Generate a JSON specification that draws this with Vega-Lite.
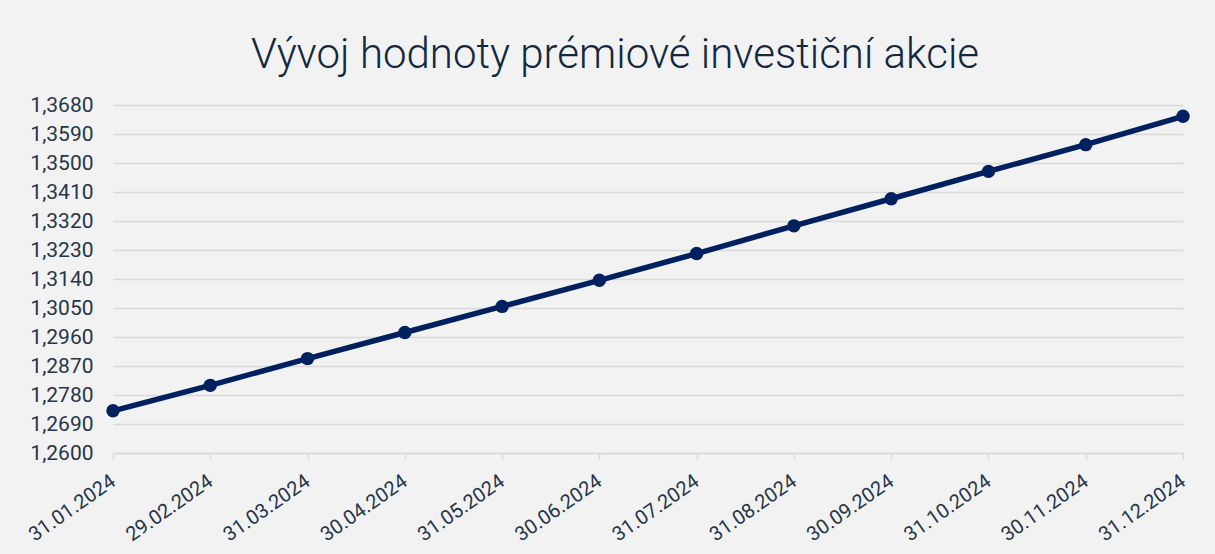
{
  "$schema": "https://vega.github.io/schema/vega-lite/v6.json",
  "autosize": {"type": "none"},
  "width": 1070,
  "height": 348,
  "padding": {"left": 113, "top": 105, "right": 32, "bottom": 101},
  "background": "#f2f2f2",
  "title": {
    "text": "Vývoj hodnoty prémiové investiční akcie",
    "font": "Roboto",
    "fontSize": 42,
    "fontWeight": 300,
    "color": "#13283f",
    "anchor": "middle",
    "frame": "group",
    "dx": -33,
    "dy": 54,
    "baseline": "alphabetic",
    "offset": 38
  },
  "config": {
    "locale": {"number": {"decimal": ",", "thousands": " ", "grouping": [3], "currency": ["", " Kč"]}},
    "view": {"stroke": null},
    "font": "Roboto"
  },
  "data": {
    "values": [
      {"datum": "31.01.2024", "hodnota": 1.2731},
      {"datum": "29.02.2024", "hodnota": 1.2810},
      {"datum": "31.03.2024", "hodnota": 1.2893},
      {"datum": "30.04.2024", "hodnota": 1.2974},
      {"datum": "31.05.2024", "hodnota": 1.3055},
      {"datum": "30.06.2024", "hodnota": 1.3136},
      {"datum": "31.07.2024", "hodnota": 1.3219},
      {"datum": "31.08.2024", "hodnota": 1.3305},
      {"datum": "30.09.2024", "hodnota": 1.3389},
      {"datum": "31.10.2024", "hodnota": 1.3474},
      {"datum": "30.11.2024", "hodnota": 1.3557},
      {"datum": "31.12.2024", "hodnota": 1.3645}
    ]
  },
  "encoding": {
    "x": {
      "field": "datum",
      "type": "ordinal",
      "sort": null,
      "scale": {"type": "point", "padding": 0},
      "axis": {
        "title": null,
        "labelAngle": -35,
        "labelAlign": "right",
        "labelBaseline": "middle",
        "labelFont": "Roboto",
        "labelFontSize": 20,
        "labelColor": "#26364a",
        "labelPadding": 20,
        "domainColor": "#d9d9d9",
        "domainWidth": 1.5,
        "tickColor": "#d9d9d9",
        "tickWidth": 1.5,
        "tickSize": 6,
        "grid": false
      }
    },
    "y": {
      "field": "hodnota",
      "type": "quantitative",
      "scale": {"domain": [1.26, 1.368], "nice": false, "zero": false},
      "axis": {
        "title": null,
        "values": [1.26, 1.269, 1.278, 1.287, 1.296, 1.305, 1.314, 1.323, 1.332, 1.341, 1.35, 1.359, 1.368],
        "format": ".4f",
        "labelFont": "Roboto",
        "labelFontSize": 21,
        "labelColor": "#26364a",
        "labelPadding": 20,
        "domain": false,
        "ticks": false,
        "tickSize": 0,
        "grid": true,
        "gridColor": "#d9d9d9",
        "gridWidth": 1.5
      }
    }
  },
  "layer": [
    {"mark": {"type": "line", "color": "#002060", "strokeWidth": 5.5}},
    {"mark": {"type": "point", "filled": true, "opacity": 1, "color": "#002060", "size": 180}}
  ]
}
